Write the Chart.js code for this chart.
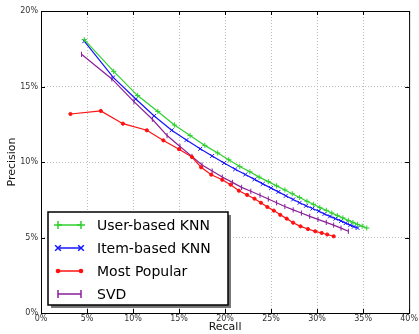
<!DOCTYPE html>
<html>
<head>
<meta charset="utf-8">
<script src="https://cdn.jsdelivr.net/npm/chart.js@4.4.0/dist/chart.umd.min.js"></script>
<style>
  html, body { margin: 0; padding: 0; background: #fff; }
  #wrap { width: 419px; height: 334px; }
</style>
</head>
<body>
<div id="wrap"><canvas id="grafica" width="419" height="334"></canvas></div>
<script>
// Recall (%) / Precision (%) for each method
const userRecall = [4.7, 7.9, 10.5, 12.7, 14.5, 16.2, 17.8, 19.2, 20.4, 21.6, 22.7, 23.7, 24.7, 25.6, 26.5, 27.3, 28.1, 28.9, 29.6, 30.3, 31.0, 31.6, 32.2, 32.8, 33.4, 33.9, 34.4, 34.9, 35.4];
const userPrecision = [18.1, 16.0, 14.4, 13.35, 12.45, 11.75, 11.1, 10.6, 10.15, 9.7, 9.35, 9.0, 8.7, 8.42, 8.15, 7.9, 7.65, 7.4, 7.2, 6.98, 6.8, 6.62, 6.45, 6.3, 6.13, 6.0, 5.87, 5.75, 5.63];

const itemRecall = [4.7, 7.85, 10.3, 12.3, 14.2, 15.8, 17.3, 18.6, 19.9, 21.1, 22.2, 23.2, 24.1, 25.0, 25.8, 26.6, 27.4, 28.1, 28.8, 29.5, 30.2, 30.8, 31.4, 32.0, 32.6, 33.1, 33.6, 34.0, 34.4];
const itemPrecision = [18.0, 15.6, 14.17, 13.05, 12.1, 11.45, 10.87, 10.4, 9.93, 9.52, 9.17, 8.85, 8.55, 8.27, 8.02, 7.76, 7.52, 7.3, 7.1, 6.92, 6.74, 6.56, 6.4, 6.25, 6.1, 5.95, 5.82, 5.72, 5.63];

const popRecall = [3.2, 6.5, 8.9, 11.5, 13.3, 15.0, 16.4, 17.4, 18.5, 19.7, 20.6, 21.5, 22.4, 23.2, 23.9, 24.6, 25.3, 26.0, 26.7, 27.4, 28.2, 29.0, 29.8, 30.5, 31.1, 31.8];
const popPrecision = [13.18, 13.38, 12.54, 12.1, 11.43, 10.85, 10.33, 9.65, 9.16, 8.82, 8.5, 8.1, 7.82, 7.57, 7.3, 7.02, 6.78, 6.5, 6.25, 5.98, 5.74, 5.56, 5.41, 5.3, 5.2, 5.08];

const svdRecall = [4.4, 7.7, 10.1, 12.1, 13.7, 15.1, 16.4, 17.5, 18.6, 19.7, 20.8, 21.8, 22.8, 23.8, 24.7, 25.6, 26.5, 27.4, 28.3, 29.2, 30.1, 31.0, 31.8, 32.6, 33.4];
const svdPrecision = [17.13, 15.5, 14.0, 12.83, 11.75, 11.03, 10.37, 9.8, 9.4, 9.0, 8.65, 8.32, 8.06, 7.8, 7.55, 7.3, 7.05, 6.83, 6.62, 6.4, 6.2, 6.0, 5.82, 5.62, 5.41];

const labels = ["User-based KNN", "Item-based KNN", "Most Popular", "SVD"];
const xTicks = [0, 5, 10, 15, 20, 25, 30, 35, 40];
const yTicks = [0, 5, 10, 15, 20];

const pts = (xs, ys) => xs.map((x, i) => ({ x: x, y: ys[i] }));

const series = [
  { label: labels[0], data: pts(userRecall, userPrecision), color: '#2ed02e', style: 'cross', radius: 2.6, rot: 0 },
  { label: labels[1], data: pts(itemRecall, itemPrecision), color: '#1414ff', style: 'crossRot', radius: 2.8, rot: 0 },
  { label: labels[2], data: pts(popRecall, popPrecision), color: '#ff1010', style: 'circle', radius: 1.6, rot: 0 },
  { label: labels[3], data: pts(svdRecall, svdPrecision), color: '#8a1f9a', style: 'line', radius: 2.6, rot: 90 },
];

// marco, ticks interiores y leyenda dentro del grafico
const frameAndLegend = {
  id: 'frameAndLegend',
  afterDraw(chart) {
    const ctx = chart.ctx;
    const a = chart.chartArea;
    const xs = chart.scales.x, ys = chart.scales.y;
    ctx.save();
    ctx.strokeStyle = '#000';
    ctx.lineWidth = 1;
    ctx.strokeRect(a.left + 0.5, a.top + 0.5, a.right - a.left, a.bottom - a.top);
    ctx.beginPath();
    xTicks.forEach(v => {
      const px = Math.round(xs.getPixelForValue(v)) + 0.5;
      ctx.moveTo(px, a.bottom); ctx.lineTo(px, a.bottom - 4);
      ctx.moveTo(px, a.top); ctx.lineTo(px, a.top + 4);
    });
    yTicks.forEach(v => {
      const py = Math.round(ys.getPixelForValue(v)) + 0.5;
      ctx.moveTo(a.left, py); ctx.lineTo(a.left + 4, py);
      ctx.moveTo(a.right, py); ctx.lineTo(a.right - 4, py);
    });
    ctx.stroke();

    // leyenda
    const bx = a.left + 7, by = a.bottom - 101, bw = 180, bh = 93;
    ctx.fillStyle = '#777';
    ctx.fillRect(bx + 3, by + 3, bw, bh);
    ctx.fillStyle = '#fff';
    ctx.fillRect(bx, by, bw, bh);
    ctx.lineWidth = 1.5;
    ctx.strokeStyle = '#000';
    ctx.strokeRect(bx, by, bw, bh);
    ctx.font = '14px "DejaVu Sans", sans-serif';
    ctx.textBaseline = 'middle';
    series.forEach((s, i) => {
      const y = by + 13 + i * 23;
      ctx.strokeStyle = s.color;
      ctx.fillStyle = s.color;
      ctx.lineWidth = 1.5;
      ctx.beginPath();
      ctx.moveTo(bx + 10, y); ctx.lineTo(bx + 33, y);
      ctx.stroke();
      [bx + 10, bx + 33].forEach(px => {
        if (s.style === 'circle') {
          ctx.beginPath(); ctx.arc(px, y, 2.3, 0, Math.PI * 2); ctx.fill();
        } else {
          Chart.helpers.drawPoint(ctx, {
            pointStyle: s.style, radius: 4, rotation: s.rot, borderWidth: 1.5
          }, px, y);
        }
      });
      ctx.fillStyle = '#000';
      ctx.fillText(s.label, bx + 49, y + 1);
    });
    ctx.restore();
  }
};

const tickFont = { family: '"DejaVu Sans", sans-serif', size: 8 };

new Chart(document.getElementById('grafica'), {
  type: 'line',
  data: {
    datasets: series.map(s => ({
      label: s.label,
      data: s.data,
      borderColor: s.color,
      backgroundColor: s.color,
      borderWidth: 1.2,
      pointStyle: s.style,
      pointRadius: s.radius,
      pointRotation: s.rot,
      pointBorderWidth: 1,
      pointHoverRadius: s.radius,
      tension: 0,
      fill: false
    }))
  },
  options: {
    responsive: false,
    animation: false,
    layout: { padding: { left: 0, right: 5, top: 11, bottom: 0 } },
    plugins: { legend: { display: false }, tooltip: { enabled: false } },
    scales: {
      x: {
        type: 'linear', min: 0, max: 40,
        afterBuildTicks: sc => { sc.ticks = xTicks.map(v => ({ value: v })); },
        afterFit: sc => { sc.height = 21; },
        ticks: { font: tickFont, color: '#333', padding: 1, maxRotation: 0, callback: v => v + '%' },
        grid: { color: '#bbb', drawTicks: false },
        border: { display: false, dash: [1, 2] },
        title: { display: true, text: 'Recall', color: '#111', font: { family: '"DejaVu Sans", sans-serif', size: 11 }, padding: { top: -1, bottom: 0 } }
      },
      y: {
        type: 'linear', min: 0, max: 20,
        afterBuildTicks: sc => { sc.ticks = yTicks.map(v => ({ value: v })); },
        afterFit: sc => { sc.width = 41; },
        ticks: { font: tickFont, color: '#333', padding: 3, callback: v => v + '%' },
        grid: { color: '#bbb', drawTicks: false },
        border: { display: false, dash: [1, 2] },
        title: { display: true, text: 'Precision', color: '#111', font: { family: '"DejaVu Sans", sans-serif', size: 11 }, padding: { top: 6, bottom: 0 } }
      }
    }
  },
  plugins: [frameAndLegend]
});
</script>
</body>
</html>
